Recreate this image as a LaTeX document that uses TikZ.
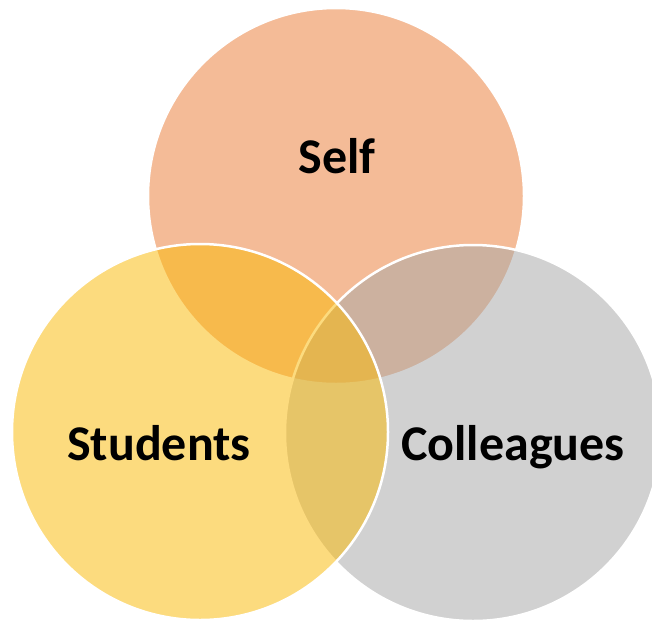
\documentclass[tikz,border=0pt]{standalone}
\usepackage{fontspec}
\setmainfont{Carlito}
\definecolor{selfcol}{RGB}{244,187,151}
\definecolor{colleaguecol}{RGB}{168,168,168}
\definecolor{studentcol}{RGB}{251,186,9}
\begin{document}
\begin{tikzpicture}[x=1pt,y=-1pt,
  venn/.style={circle,minimum size=376pt,inner sep=0pt,outer sep=0pt,
    draw=white,line width=2.5pt},
  label/.style={anchor=base,font=\bfseries\fontsize{50}{60}\selectfont,text=black,inner sep=0pt}]
  \clip (0,0) rectangle (652,619);
  \fill[white] (0,0) rectangle (652,619);
  % three overlapping circles, each laid over the previous ones
  \node[venn,fill=selfcol] (self) at (336,196) {};
  \node[venn,fill=colleaguecol,fill opacity=0.52] (colleagues) at (473,433) {};
  \node[venn,fill=studentcol,fill opacity=0.52] (students) at (200,432) {};
  % labels
  \node[label] (selflabel) at (337,173) {Self};
  \node[label] (studentslabel) at (159,460) {Students};
  \node[label] (colleagueslabel) at (513,460) {Colleagues};
\end{tikzpicture}
\end{document}
